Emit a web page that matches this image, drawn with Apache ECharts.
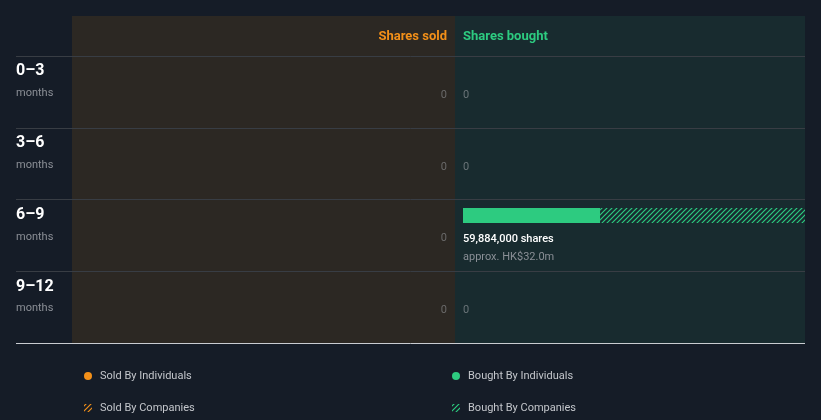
<!DOCTYPE html>
<html>
<head>
<meta charset="utf-8">
<script src="https://cdn.jsdelivr.net/npm/echarts@6/dist/echarts.min.js"></script>
<style>
html,body{margin:0;padding:0;background:#151c27;}
#chart{width:821px;height:420px;}
</style>
</head>
<body>
<div id="chart"></div>
<script>
// ---- data ----
const categories = ['0–3', '3–6', '6–9', '9–12'];
const periodUnit = 'months';
const soldByIndividuals = [0, 0, 0, 0];
const soldByCompanies = [0, 0, 0, 0];
const boughtByIndividuals = [0, 0, 24000000, 0];
const boughtByCompanies = [0, 0, 35884000, 0];
const soldValueHKDm = [0, 0, 0, 0];
const boughtValueHKDm = [0, 0, 32.0, 0];
const seriesNames = ['Sold By Individuals', 'Sold By Companies', 'Bought By Individuals', 'Bought By Companies'];
const panelTitles = ['Shares sold', 'Shares bought'];

// ---- style ----
const FONT = 'Roboto, "Noto Sans", sans-serif';
const ORANGE = '#f39019';
const GREEN = '#2dcb80';
const BG = '#151c27';
const SOLD_BG = '#2c2823';
const BOUGHT_BG = '#182b2f';

function makeHatch(color) {
  const c = document.createElement('canvas');
  c.width = 5; c.height = 5;
  const ctx = c.getContext('2d');
  ctx.strokeStyle = color;
  ctx.lineWidth = 1.2;
  ctx.beginPath();
  ctx.moveTo(0, 5); ctx.lineTo(5, 0);
  ctx.moveTo(-1, 1); ctx.lineTo(1, -1);
  ctx.moveTo(4, 6); ctx.lineTo(6, 4);
  ctx.stroke();
  return { image: c, repeat: 'repeat' };
}
const orangeHatch = makeHatch(ORANGE);
const greenHatch = makeHatch(GREEN);

const soldTotals = soldByIndividuals.map((v, i) => v + soldByCompanies[i]);
const boughtTotals = boughtByIndividuals.map((v, i) => v + boughtByCompanies[i]);
const maxTotal = Math.max(1, ...soldTotals, ...boughtTotals);

function segData(a, b) {
  return categories.map((_, i) => [i, a ? a[i] : 0, (a ? a[i] : 0) + b[i]]);
}

function barRender(params, api) {
  const row = api.value(0), s = api.value(1), e = api.value(2);
  if (!(e > s)) return null;
  const p0 = api.coord([s, row]);
  const p1 = api.coord([e, row]);
  const x = Math.min(p0[0], p1[0]);
  const w = Math.abs(p1[0] - p0[0]);
  return {
    type: 'rect',
    shape: { x: x, y: Math.round(p0[1] + 8), width: w, height: 15 },
    style: { fill: api.visual('color') }
  };
}

function labelRender(side) {
  return function (params, api) {
    const row = api.value(0), total = api.value(1), val = api.value(2);
    const p = api.coord([0, row]);
    const align = side === 'sold' ? 'right' : 'left';
    const children = [];
    if (total > 0) {
      children.push({
        type: 'text',
        style: { text: total.toLocaleString('en-US') + ' shares', x: p[0], y: p[1] + 39.5,
          align: align, verticalAlign: 'middle', fill: '#ffffff', fontSize: 11, fontFamily: FONT, fontWeight: 500 }
      });
      children.push({
        type: 'text',
        style: { text: 'approx. HK$' + val.toFixed(1) + 'm', x: p[0], y: p[1] + 57.5,
          align: align, verticalAlign: 'middle', fill: '#8a8f96', fontSize: 11, fontFamily: FONT }
      });
    } else {
      children.push({
        type: 'text',
        style: { text: '0', x: p[0], y: p[1] + 39, align: align, verticalAlign: 'middle',
          fill: side === 'sold' ? '#6a6a6a' : '#6a7478', fontSize: 11, fontFamily: FONT }
      });
    }
    return { type: 'group', children: children };
  };
}

const chart = echarts.init(document.getElementById('chart'), null, { renderer: 'canvas' });
const option = {
  backgroundColor: BG,
  animation: false,
  graphic: [
    { type: 'rect', z: -10, silent: true, shape: { x: 72, y: 16, width: 383, height: 327 }, style: { fill: SOLD_BG } },
    { type: 'rect', z: -10, silent: true, shape: { x: 455, y: 16, width: 350, height: 327 }, style: { fill: BOUGHT_BG } },
    { type: 'line', z: 10, silent: true, shape: { x1: 16, y1: 343.5, x2: 805, y2: 343.5 },
      style: { stroke: '#c9ccd1', lineWidth: 1 } }
  ],
  title: [
    { text: panelTitles[0], right: 374, top: 30, padding: 0,
      textStyle: { color: ORANGE, fontSize: 13, fontWeight: 'bold', fontFamily: FONT } },
    { text: panelTitles[1], left: 463, top: 30, padding: 0,
      textStyle: { color: GREEN, fontSize: 13, fontWeight: 'bold', fontFamily: FONT } }
  ],
  legend: [
    { left: 84, top: 369, orient: 'vertical', padding: 0, itemGap: 18, itemWidth: 14, itemHeight: 8,
      selectedMode: false,
      textStyle: { color: '#c3c6cb', fontSize: 11, fontFamily: FONT, lineHeight: 14 },
      data: [ { name: seriesNames[0], icon: 'circle' }, { name: seriesNames[1], icon: 'path://M0,0H8V8H0Z' } ] },
    { left: 452, top: 369, orient: 'vertical', padding: 0, itemGap: 18, itemWidth: 14, itemHeight: 8,
      selectedMode: false,
      textStyle: { color: '#c3c6cb', fontSize: 11, fontFamily: FONT, lineHeight: 14 },
      data: [ { name: seriesNames[2], icon: 'circle' }, { name: seriesNames[3], icon: 'path://M0,0H8V8H0Z' } ] }
  ],
  grid: [
    { left: 16, right: 16, top: 56, bottom: 77 },
    { left: 72, right: 374, top: 56, bottom: 77 },
    { left: 463, right: 16, top: 56, bottom: 77 }
  ],
  xAxis: [
    { gridIndex: 0, type: 'value', min: 0, max: 1, show: false },
    { gridIndex: 1, type: 'value', min: 0, max: maxTotal, inverse: true, show: false },
    { gridIndex: 2, type: 'value', min: 0, max: maxTotal, show: false }
  ],
  yAxis: [
    { gridIndex: 0, type: 'category', inverse: true, data: categories, z: 4,
      axisLine: { show: false }, axisTick: { show: false },
      splitLine: { show: true, lineStyle: { color: '#383d44', width: 1 } },
      axisLabel: {
        inside: true, margin: 0, align: 'left', verticalAlign: 'middle',
        formatter: v => '{a|' + v + '}\n{b|' + periodUnit + '}\n{c| }',
        rich: {
          a: { color: '#ffffff', fontSize: 16, fontWeight: 'bold', fontFamily: FONT, lineHeight: 22, height: 22 },
          b: { color: '#8b8f96', fontSize: 11, fontFamily: FONT, lineHeight: 22, height: 22 },
          c: { fontSize: 11, lineHeight: 19, height: 19 }
        }
      } },
    { gridIndex: 1, type: 'value', min: 0, max: 4, inverse: true, show: false },
    { gridIndex: 2, type: 'value', min: 0, max: 4, inverse: true, show: false }
  ],
  series: [
    { name: seriesNames[0], type: 'custom', xAxisIndex: 1, yAxisIndex: 1, itemStyle: { color: ORANGE },
      renderItem: barRender, data: segData(null, soldByIndividuals) },
    { name: seriesNames[1], type: 'custom', xAxisIndex: 1, yAxisIndex: 1, itemStyle: { color: orangeHatch },
      renderItem: barRender, data: segData(soldByIndividuals, soldByCompanies) },
    { name: seriesNames[2], type: 'custom', xAxisIndex: 2, yAxisIndex: 2, itemStyle: { color: GREEN },
      renderItem: barRender, data: segData(null, boughtByIndividuals) },
    { name: seriesNames[3], type: 'custom', xAxisIndex: 2, yAxisIndex: 2, itemStyle: { color: greenHatch },
      renderItem: barRender, data: segData(boughtByIndividuals, boughtByCompanies) },
    { name: 'soldLabels', type: 'custom', xAxisIndex: 1, yAxisIndex: 1, silent: true,
      renderItem: labelRender('sold'),
      data: categories.map((_, i) => [i, soldTotals[i], soldValueHKDm[i]]) },
    { name: 'boughtLabels', type: 'custom', xAxisIndex: 2, yAxisIndex: 2, silent: true,
      renderItem: labelRender('bought'),
      data: categories.map((_, i) => [i, boughtTotals[i], boughtValueHKDm[i]]) }
  ]
};
chart.setOption(option);
</script>
</body>
</html>
